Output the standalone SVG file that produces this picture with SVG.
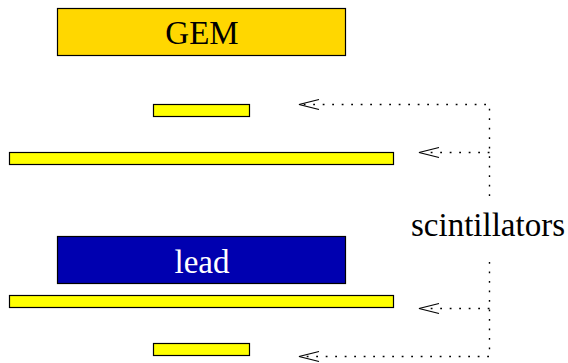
<svg xmlns="http://www.w3.org/2000/svg" width="568" height="363" viewBox="0 0 568 363">
<style>
.box{stroke:#000;stroke-width:1.2}
.gem{fill:#FFD700}
.bar{fill:#FFFF00}
.lead{fill:#0000B0}
.t{font-family:"Liberation Serif","Times New Roman",serif;font-size:33px;text-anchor:middle}
.dot{fill:none;stroke:#000;stroke-width:1.4;stroke-dasharray:1.8 7.7}
.head{fill:none;stroke:#000;stroke-width:1.2}
</style>
<rect width="568" height="363" fill="#fff"/>
<g id="gem"><rect class="box gem" x="57.5" y="8.5" width="288" height="47"/><text class="t" x="202" y="44">GEM</text></g>
<g id="bar1"><rect class="box bar" x="153.5" y="104.5" width="96" height="12"/></g>
<g id="bar2"><rect class="box bar" x="9.5" y="152.5" width="384" height="12"/></g>
<g id="lead"><rect class="box lead" x="57.5" y="236.5" width="288" height="47"/><text class="t" x="202" y="273" fill="#fff">lead</text></g>
<g id="bar3"><rect class="box bar" x="9.5" y="295.5" width="384" height="12"/></g>
<g id="bar4"><rect class="box bar" x="153.5" y="343.5" width="96" height="12"/></g>
<g id="label"><text class="t" x="488" y="236">scintillators</text></g>
<g id="connectors">
<path class="dot" d="M489.5 196 V104.5 H303"/>
<path class="dot" d="M489.5 152.5 H423"/>
<path class="dot" d="M489.5 262 V356.5 H303"/>
<path class="dot" d="M489.5 308.5 H423"/>
<path class="head" d="M319 99.5 L299 104.5 L319 109.5"/>
<path class="head" d="M439 147.5 L419 152.5 L439 157.5"/>
<path class="head" d="M439 303.5 L419 308.5 L439 313.5"/>
<path class="head" d="M319 351.5 L299 356.5 L319 361.5"/>
</g>
</svg>
